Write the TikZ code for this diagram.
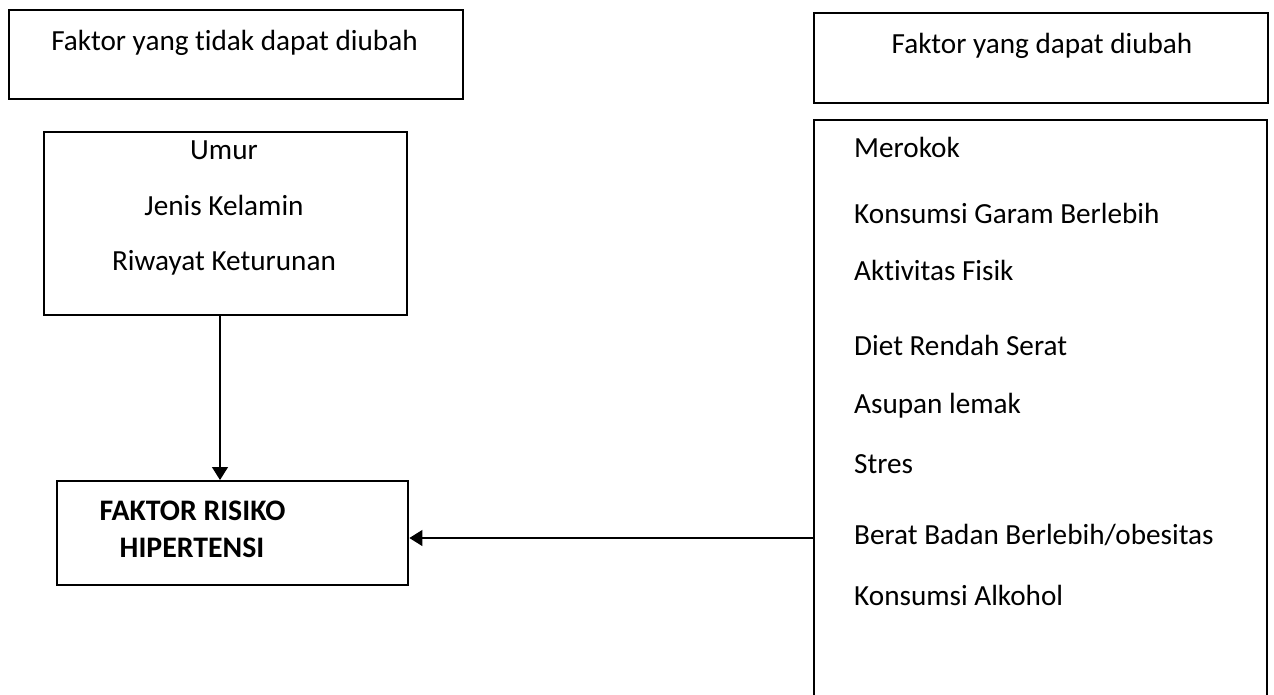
\documentclass[tikz,border=0pt]{standalone}
\usepackage{fontspec}
\setmainfont[Ligatures=NoCommon]{Carlito}
\usetikzlibrary{arrows.meta}
\begin{document}
\begin{tikzpicture}[x=1pt,y=-1pt,
  box/.style={draw=black,line width=2.4pt,rectangle,inner sep=0pt,anchor=north west},
  txt/.style={inner sep=0pt,font=\fontsize{29.2}{35}\selectfont},
  boldtxt/.style={inner sep=0pt,font=\fontsize{29.8}{35}\selectfont\bfseries},
  arr/.style={draw=black,line width=1.3pt,-{Triangle[length=13pt,width=16pt]}}]
\useasboundingbox (0,0) rectangle (1274,694);
\clip (0,0) rectangle (1274,694);
\fill[white] (0,0) rectangle (1274,694);
% boxes
\node[box,minimum width=454pt,minimum height=89pt] (b1) at (8,9) {};
\node[box,minimum width=363pt,minimum height=183pt] (b2) at (43,131) {};
\node[box,minimum width=351pt,minimum height=104pt] (b3) at (56,480) {};
\node[box,minimum width=454pt,minimum height=90pt] (b4) at (813,12) {};
\node[box,minimum width=453pt,minimum height=600pt] (b5) at (813,119) {};
% texts
\node[txt,anchor=base] (t1) at (234.5,50) {Faktor yang tidak dapat diubah};
\node[txt,anchor=base] (t4) at (1042,53) {Faktor yang dapat diubah};
\node[txt,anchor=base] (u1) at (224,159) {Umur};
\node[txt,anchor=base] (u2) at (224,215) {Jenis Kelamin};
\node[txt,anchor=base] (u3) at (224,270) {Riwayat Keturunan};
\node[boldtxt,anchor=base] (r1) at (192.5,520) {FAKTOR RISIKO};
\node[boldtxt,anchor=base] (r2) at (192,557) {HIPERTENSI};
\node[txt,anchor=base west] (m1) at (854,157) {Merokok};
\node[txt,anchor=base west] (m2) at (854,223) {Konsumsi Garam Berlebih};
\node[txt,anchor=base west] (m3) at (854,280) {Aktivitas Fisik};
\node[txt,anchor=base west] (m4) at (854,355) {Diet Rendah Serat};
\node[txt,anchor=base west] (m5) at (854,413) {Asupan lemak};
\node[txt,anchor=base west] (m6) at (854,473) {Stres};
\node[txt,anchor=base west] (m7) at (854,544) {Berat Badan Berlebih/obesitas};
\node[txt,anchor=base west] (m8) at (854,605) {Konsumsi Alkohol};
% connectors
\coordinate (v) at (220,0);
\coordinate (h) at (0,538);
\draw[arr] (b2.south -| v) -- (b3.north -| v);
\draw[arr] (b5.west |- h) -- (b3.east |- h);
\end{tikzpicture}
\end{document}
